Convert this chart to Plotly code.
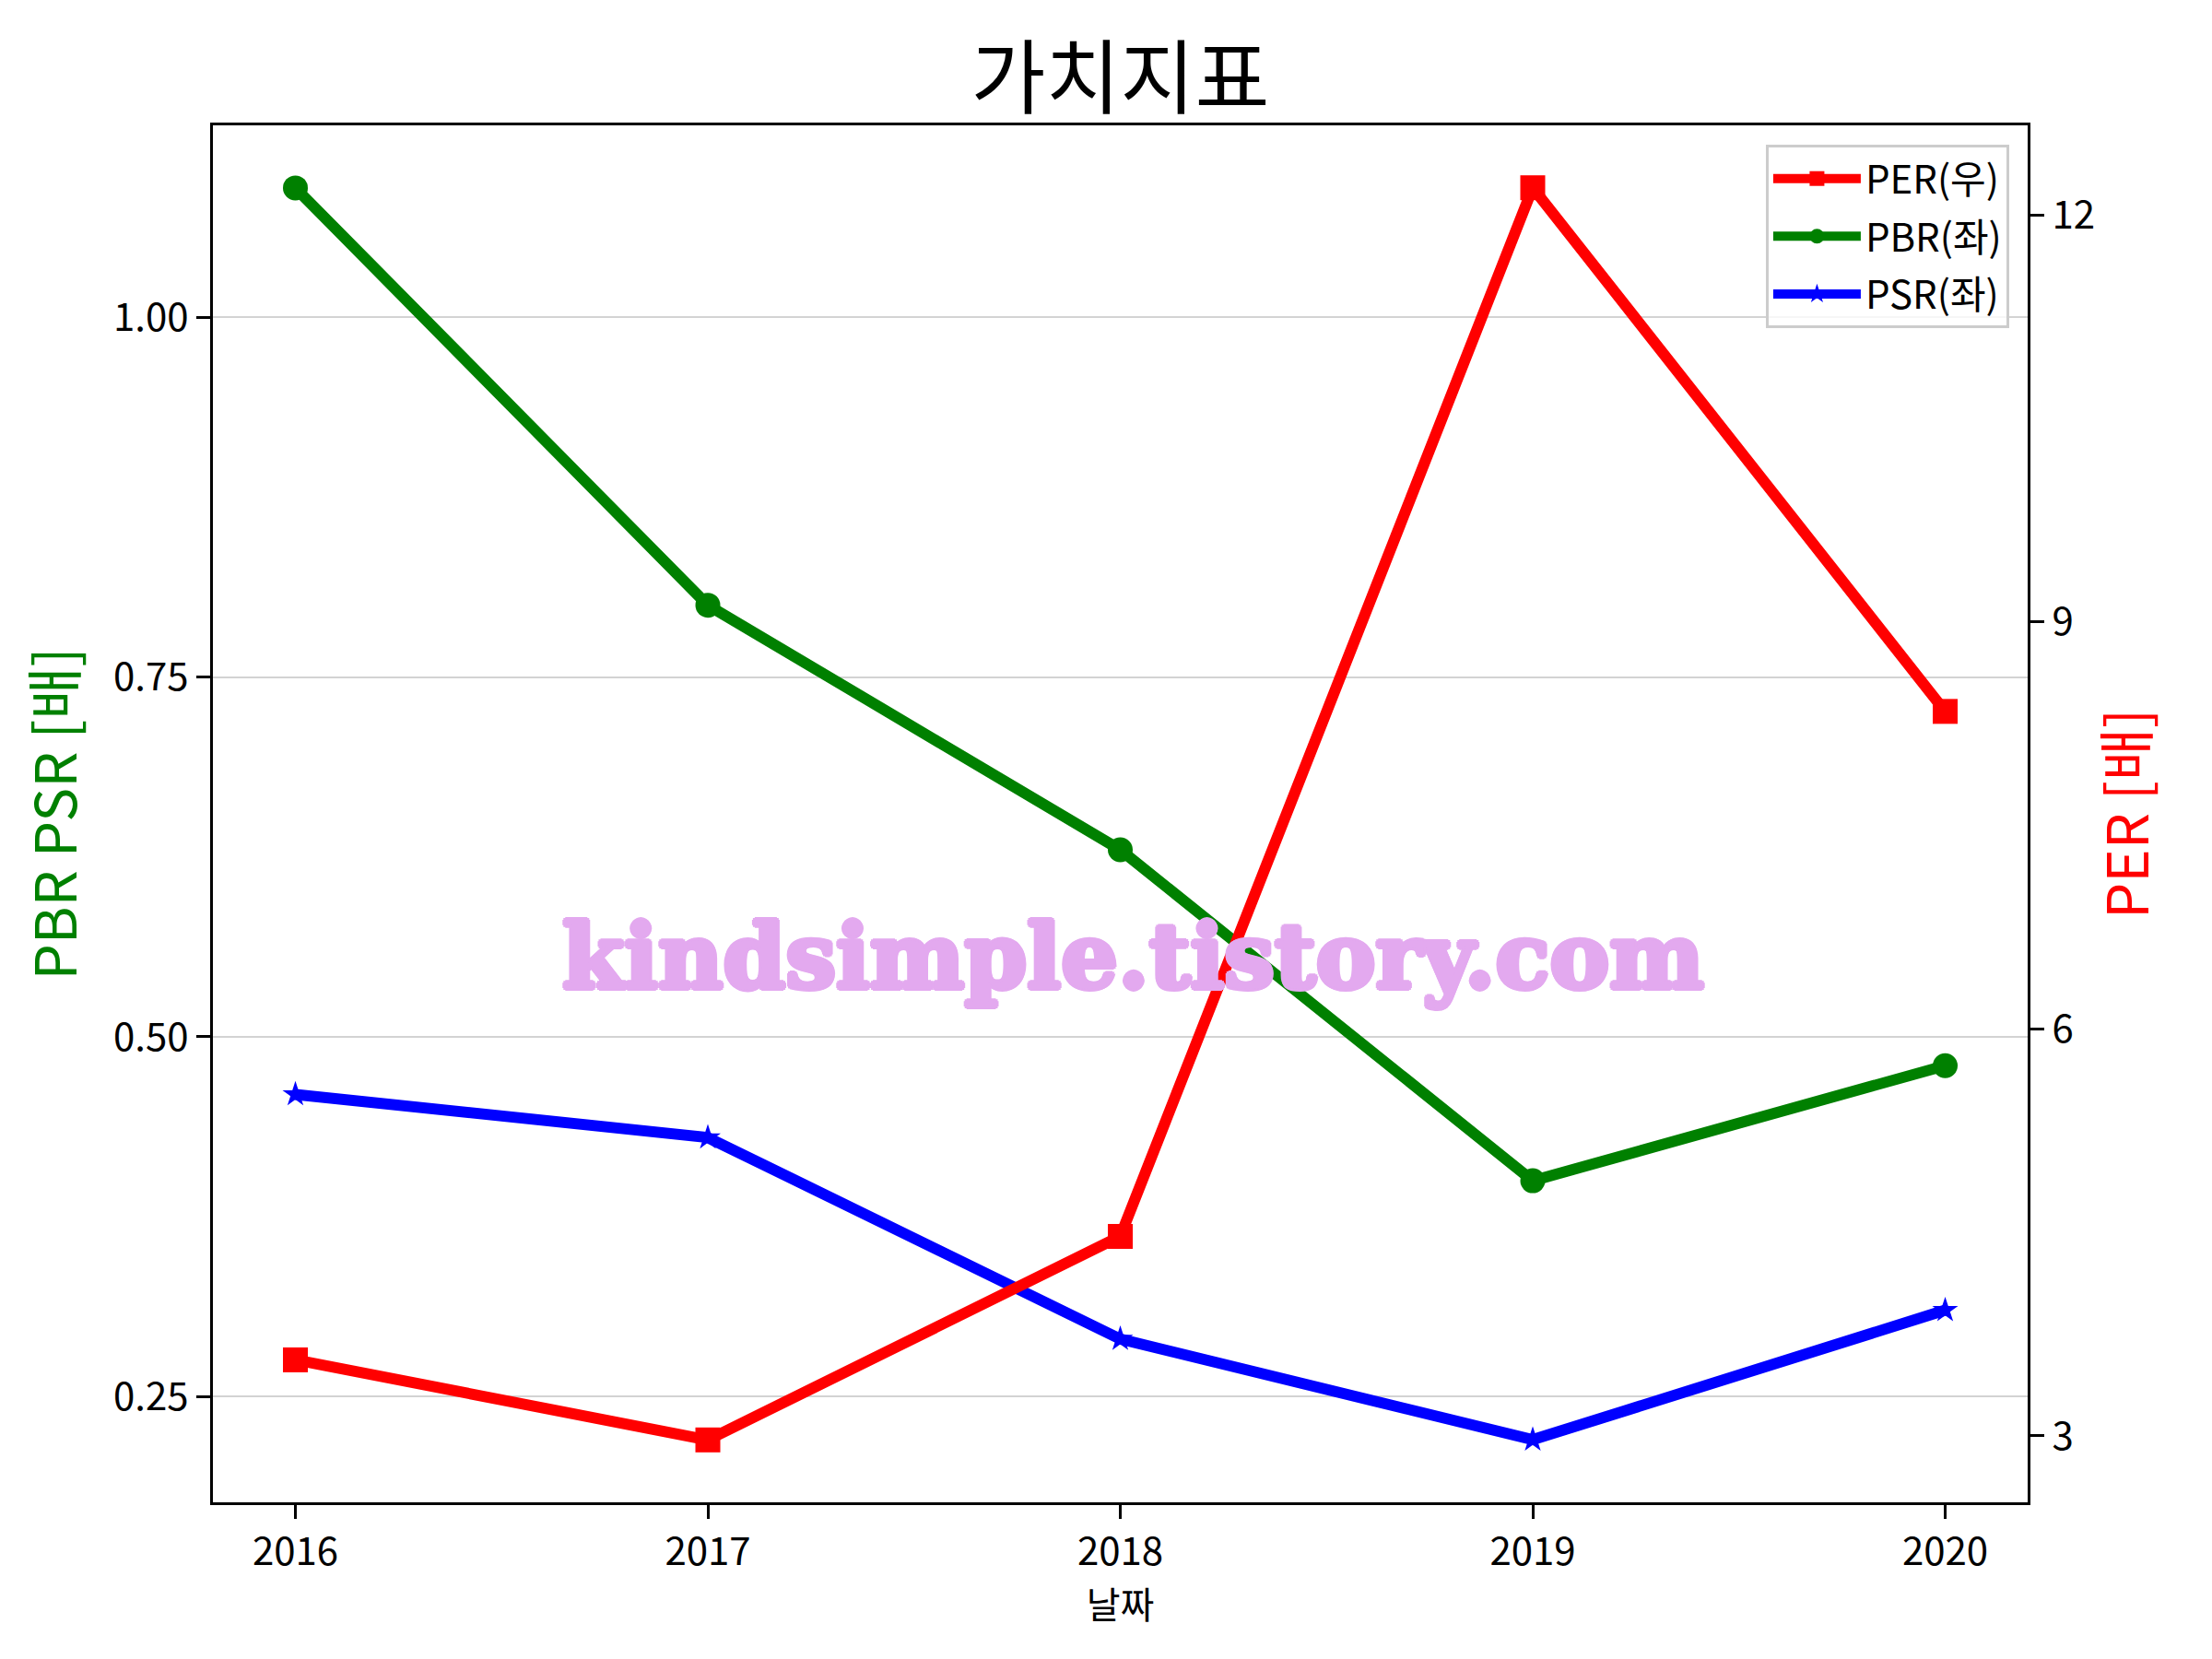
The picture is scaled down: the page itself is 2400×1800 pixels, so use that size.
import plotly.graph_objects as go

years = [2016, 2017, 2018, 2019, 2020]
per = [3.56, 2.97, 4.47, 12.2, 8.34]
pbr = [1.09, 0.80, 0.63, 0.40, 0.48]
psr = [0.46, 0.43, 0.29, 0.22, 0.31]

left_ticks = [0.25, 0.50, 0.75, 1.00]
right_ticks = [3, 6, 9, 12]
x_ticks = [2016, 2017, 2018, 2019, 2020]

FONT = "Noto Sans CJK KR"

fig = go.Figure()
fig.add_trace(go.Scatter(x=years, y=pbr, name="PBR(좌)", mode="lines+markers",
                         line=dict(color="green", width=12),
                         marker=dict(symbol="circle", size=27, color="green"),
                         yaxis="y", legendgroup="b", legendrank=2))
fig.add_trace(go.Scatter(x=years, y=psr, name="PSR(좌)", mode="lines+markers",
                         line=dict(color="blue", width=12),
                         marker=dict(symbol="star", size=21, color="blue"),
                         yaxis="y", legendgroup="c", legendrank=3))
fig.add_trace(go.Scatter(x=years, y=per, name="PER(우)", mode="lines+markers",
                         line=dict(color="red", width=12),
                         marker=dict(symbol="square", size=27, color="red"),
                         yaxis="y2", legendgroup="a", legendrank=1))

W, H = 2400, 1800
L, R, T, B = 223, 208, 128, 178

fig.update_layout(
    width=W, height=H,
    margin=dict(l=L, r=R, t=T, b=B, pad=0),
    paper_bgcolor="white", plot_bgcolor="white",
    font=dict(family=FONT, size=42, color="black"),
    title=dict(text="가치지표", x=0.5, xref="paper", xanchor="center",
               y=1 - 77 / 1800, yref="container", yanchor="middle",
               font=dict(family=FONT, size=88, color="black")),
    xaxis=dict(range=[2015.8, 2020.2], tickvals=x_ticks,
               ticktext=[str(v) for v in x_ticks],
               showgrid=False, zeroline=False,
               showline=True, linecolor="black", linewidth=3, mirror=True,
               ticks="outside", ticklen=15, tickwidth=3, tickcolor="black",
               tickfont=dict(size=42),
               title=dict(text="날짜", font=dict(size=40), standoff=6)),
    yaxis=dict(range=[0.1765, 1.1335], tickvals=left_ticks,
               ticktext=["%.2f" % v for v in left_ticks],
               showgrid=True, gridcolor="#d3d3d3", gridwidth=2, zeroline=False,
               showline=True, linecolor="black", linewidth=3, mirror=True,
               ticks="outside", ticklen=15, tickwidth=3, tickcolor="black",
               tickfont=dict(size=42),
               title=dict(text="PBR PSR [배]", font=dict(size=62, color="green"), standoff=20)),
    yaxis2=dict(range=[2.51, 12.66], tickvals=right_ticks,
                ticktext=[str(v) for v in right_ticks],
                overlaying="y", side="right", showgrid=False, zeroline=False,
                showline=True, linecolor="black", linewidth=3,
                ticks="outside", ticklen=15, tickwidth=3, tickcolor="black",
                tickfont=dict(size=42),
                title=dict(text="PER [배]", font=dict(size=62, color="red"), standoff=16)),
    legend=dict(x=0.9898, y=0.986, xanchor="right", yanchor="top",
                bgcolor="rgba(255,255,255,0.8)", bordercolor="#cccccc", borderwidth=3,
                font=dict(size=42), traceorder="grouped", tracegroupgap=5, itemwidth=95),
    showlegend=True,
)

wm_color = "#e3a9ef"
shadow = ", ".join("%dpx %dpx 0 %s" % (dx, dy, wm_color)
                   for dx, dy in [(3, 0), (-3, 0), (0, 3), (0, -3), (2, 2), (-2, -2), (2, -2), (-2, 2)])
fig.add_annotation(text="<b>kindsimple.tistory.com</b>", xref="paper", yref="paper",
                   x=0.507, y=0.396, xanchor="center", yanchor="middle", showarrow=False,
                   font=dict(family="DejaVu Serif", size=97, color=wm_color, shadow=shadow))

fig.write_html("out.html")
